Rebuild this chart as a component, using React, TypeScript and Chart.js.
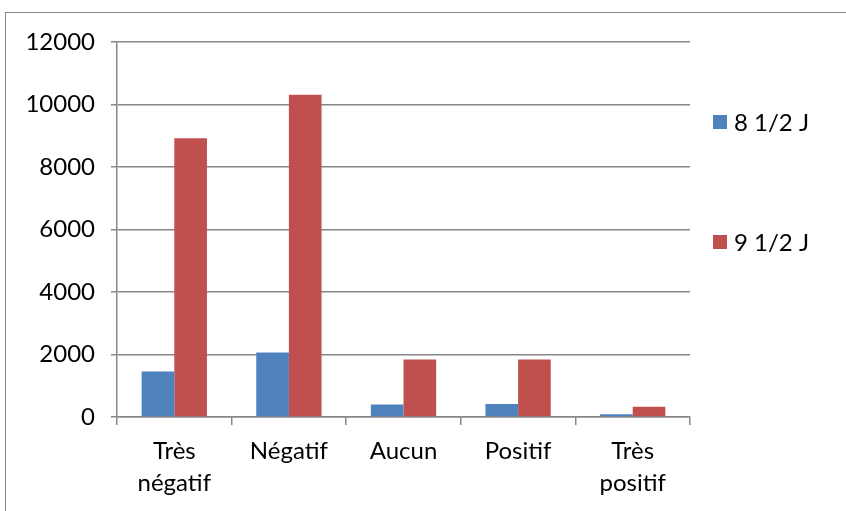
import React, { useEffect, useRef } from "react";
import { Chart, registerables } from "chart.js";

Chart.register(...registerables);

const categories: string[][] = [["Très", "négatif"], ["Négatif"], ["Aucun"], ["Positif"], ["Très", "positif"]];
const seriesNames = ["8 1/2 J", "9 1/2 J"];
const series8 = [1455, 2065, 400, 420, 90];
const series9 = [8920, 10310, 1840, 1840, 325];
const seriesColors = ["#4F81BD", "#C0504D"];
const yMin = 0;
const yMax = 12000;
const yStep = 2000;

const FONT = "Lato";
const FONT_SIZE = 24;
const GRID = "#878787";

const legendPlugin = {
  id: "sideLegend",
  afterDraw(chart: any) {
    const { ctx, chartArea } = chart;
    ctx.save();
    chart.data.datasets.forEach((ds: any, i: number) => {
      const x = chartArea.right + 23;
      const y = chartArea.top + 80 + i * 120;
      ctx.fillStyle = ds.backgroundColor;
      ctx.fillRect(x, y - 7, 14, 14);
      ctx.fillStyle = "#000";
      ctx.font = `${FONT_SIZE}px ${FONT}`;
      ctx.textBaseline = "middle";
      ctx.textAlign = "left";
      ctx.fillText(ds.label, x + 21, y + 1);
    });
    ctx.restore();
  },
};

export default function App() {
  const ref = useRef<HTMLCanvasElement>(null);
  useEffect(() => {
    if (!ref.current) return;
    const chart = new Chart(ref.current, {
      type: "bar",
      data: {
        labels: categories,
        datasets: [
          { label: seriesNames[0], data: series8, backgroundColor: seriesColors[0] },
          { label: seriesNames[1], data: series9, backgroundColor: seriesColors[1] },
        ],
      },
      options: {
        animation: false,
        responsive: false,
        maintainAspectRatio: false,
        layout: { padding: { left: 0, right: 156, top: 42, bottom: 0 } },
        datasets: { bar: { categoryPercentage: 0.57, barPercentage: 1.0 } },
        plugins: { legend: { display: false }, tooltip: { enabled: false } },
        scales: {
          x: {
            offset: true,
            grid: {
              offset: true,
              drawOnChartArea: false,
              drawTicks: true,
              tickLength: 8,
              color: GRID,
              lineWidth: 1.5,
            },
            border: { color: GRID, width: 1.5 },
            ticks: {
              color: "#000",
              font: { family: FONT, size: FONT_SIZE, lineHeight: 1.35 },
              padding: 10,
              maxRotation: 0,
              autoSkip: false,
            },
            afterFit(scale: any) {
              scale.height = 94;
            },
          },
          y: {
            min: yMin,
            max: yMax,
            ticks: {
              stepSize: yStep,
              color: "#000",
              font: { family: FONT, size: FONT_SIZE },
              padding: 16,
              callback: (v: any) => String(v),
            },
            grid: { color: GRID, lineWidth: 1.5, tickLength: 6 },
            border: { color: GRID, width: 1.5 },
            afterFit(scale: any) {
              scale.width = 117;
            },
          },
        },
      },
      plugins: [legendPlugin],
    });
    return () => chart.destroy();
  }, []);

  return (
    <div style={{ position: "fixed", left: 0, top: 0, width: 846, height: 511, overflow: "hidden", background: "#fff" }}>
      <div
        style={{
          position: "absolute",
          left: 5,
          top: 12,
          width: 900,
          height: 600,
          borderLeft: "1.5px solid #868686",
          borderTop: "1.5px solid #868686",
        }}
      />
      <canvas ref={ref} width={846} height={511} style={{ position: "absolute", left: 0, top: 0 }} />
    </div>
  );
}
